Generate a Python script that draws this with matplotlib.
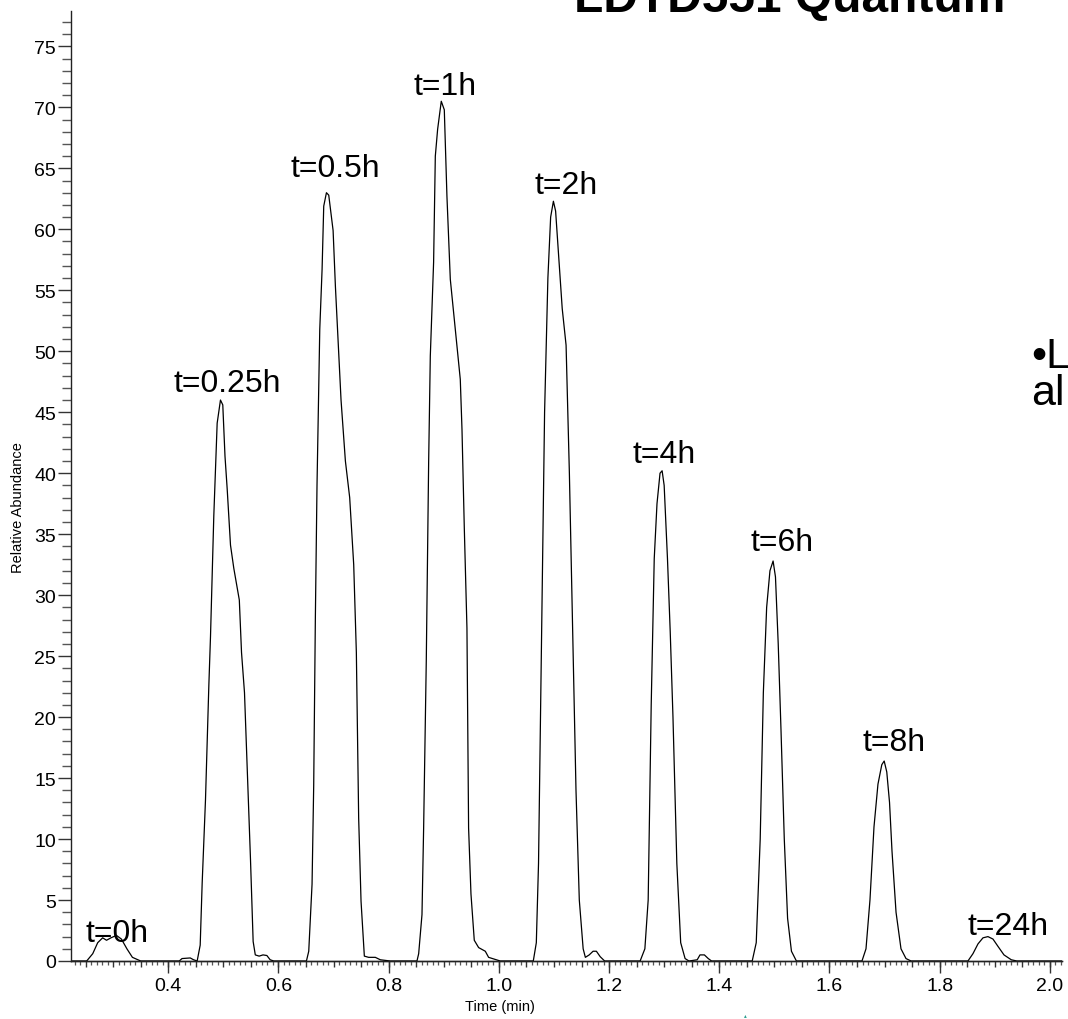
import matplotlib
matplotlib.use("Agg")
import matplotlib.pyplot as plt
from matplotlib.ticker import MultipleLocator, FixedLocator, NullFormatter

plt.rcParams['font.family'] = ['Liberation Sans', 'DejaVu Sans']

# Chromatogram trace: retention time (min) and relative abundance (%)
time_min = [
    0.223, 0.252,
    # t=0h
    0.263, 0.272, 0.281, 0.288, 0.296, 0.306, 0.315, 0.325, 0.335, 0.350,
    0.420, 0.425, 0.440, 0.446,
    # t=0.25h
    0.4525, 0.458, 0.4616, 0.4676, 0.4737, 0.4767, 0.4827, 0.4888, 0.4948,
    0.4990, 0.5030, 0.5070, 0.5130, 0.5190, 0.5290, 0.5330, 0.5384, 0.5432,
    0.5493, 0.5541, 0.5580, 0.5650, 0.5720, 0.5790, 0.5850, 0.5916,
    # t=0.5h
    0.6508, 0.655, 0.661, 0.664, 0.667, 0.670, 0.675, 0.6792, 0.6822, 0.6871,
    0.6913, 0.6992, 0.7034, 0.7094, 0.7136, 0.7215, 0.7293, 0.7366, 0.7414,
    0.7456, 0.7499, 0.7559, 0.7637, 0.7758, 0.7849, 0.803,
    # t=1h
    0.8514, 0.8545, 0.8605, 0.8635, 0.8683, 0.8726, 0.8756, 0.8816, 0.8847,
    0.8889, 0.8955, 0.9010, 0.9058, 0.9119, 0.9179, 0.9240, 0.9300, 0.9331,
    0.9373, 0.9421, 0.9451, 0.9494, 0.9554, 0.9633, 0.9754, 0.9814, 1.0025,
    # t=2h
    1.0625, 1.0680, 1.0720, 1.0770, 1.0830, 1.0890, 1.0940, 1.0990, 1.1030,
    1.1090, 1.1150, 1.1220, 1.1280, 1.1340, 1.1400, 1.1460, 1.1530, 1.1570,
    1.1640, 1.1710, 1.1770, 1.1840, 1.1920,
    # t=4h
    1.2564, 1.2650, 1.2710, 1.2765, 1.2820, 1.2870, 1.2925, 1.2963, 1.3000,
    1.3060, 1.3110, 1.3160, 1.3230, 1.3300, 1.3380, 1.3450,
    1.3600, 1.3650, 1.3730, 1.3800, 1.3860,
    # t=6h
    1.4598, 1.4671, 1.4743, 1.4800, 1.4860, 1.4920, 1.4977, 1.5020, 1.5070,
    1.5120, 1.5180, 1.5240, 1.5310, 1.5400,
    # t=8h
    1.6590, 1.6663, 1.6735, 1.6808, 1.6880, 1.6950, 1.6993, 1.7040, 1.7090,
    1.7135, 1.7208, 1.7298, 1.7389, 1.7480,
    # t=24h
    1.8513, 1.8604, 1.8695, 1.8786, 1.8876, 1.8967, 1.9058, 1.9167, 1.9300,
    1.9400, 2.022,
]

abundance = [
    0.0, 0.0,
    0.6, 1.5, 1.9, 1.7, 1.9, 2.1, 1.8, 1.0, 0.3, 0.0,
    0.0, 0.2, 0.25, 0.1,
    0.0, 1.3, 6.4, 13.2, 22.6, 26.6, 36.5, 44.1, 46.0,
    45.6, 41.4, 38.7, 34.1, 32.2, 29.6, 25.3, 22.0, 15.9,
    8.3, 1.6, 0.5, 0.4, 0.5, 0.45, 0.1, 0.0,
    0.0, 0.8, 6.3, 14.4, 28.1, 39.0, 51.8, 56.7, 61.9, 63.0,
    62.8, 59.9, 55.3, 49.9, 46.0, 41.0, 38.0, 32.5, 25.3,
    11.7, 4.9, 0.4, 0.3, 0.3, 0.1, 0.0,
    0.0, 0.6, 3.8, 10.9, 24.6, 40.9, 49.6, 57.3, 66.0,
    68.2, 70.5, 69.8, 62.7, 55.9, 53.2, 50.5, 47.7, 43.6,
    35.5, 27.3, 10.9, 5.5, 1.7, 1.1, 0.8, 0.3, 0.0,
    0.0, 1.5, 8.0, 25.0, 45.0, 56.0, 61.0, 62.3, 61.5,
    57.5, 53.5, 50.5, 40.0, 27.0, 14.0, 5.0, 1.0, 0.3,
    0.5, 0.8, 0.8, 0.35, 0.0,
    0.0, 1.0, 5.0, 21.0, 33.0, 37.5, 40.0, 40.2, 39.0,
    33.0, 27.0, 20.0, 8.0, 1.5, 0.2, 0.0,
    0.1, 0.5, 0.5, 0.2, 0.0,
    0.0, 1.5, 10.0, 22.0, 29.0, 32.0, 32.8, 31.5, 26.0,
    19.0, 10.0, 3.5, 0.8, 0.0,
    0.0, 1.0, 5.0, 11.0, 14.5, 16.1, 16.4, 15.5, 13.0,
    9.0, 4.0, 1.0, 0.2, 0.0,
    0.0, 0.6, 1.4, 1.9, 2.0, 1.8, 1.2, 0.5, 0.1,
    0.0, 0.0,
]

# Peak labels (sampling time) and their anchor points
peak_labels = ["t=0h", "t=0.25h", "t=0.5h", "t=1h", "t=2h",
               "t=4h", "t=6h", "t=8h", "t=24h"]
label_x = [0.308, 0.5076, 0.7034, 0.9028, 1.1222, 1.300, 1.514, 1.717, 1.924]
label_y = [1.6, 46.7, 64.4, 71.1, 63.0, 40.9, 33.7, 17.3, 2.2]

x_major = [0.4, 0.6, 0.8, 1.0, 1.2, 1.4, 1.6, 1.8, 2.0]
x_major_labels = ["0.4", "0.6", "0.8", "1.0", "1.2", "1.4", "1.6", "1.8", "2.0"]
y_major = [0, 5, 10, 15, 20, 25, 30, 35, 40, 45, 50, 55, 60, 65, 70, 75]

W, H = 1068, 1020
fig = plt.figure(figsize=(W / 100, H / 100), dpi=100)
ax = fig.add_axes([70.7 / W, 58 / H, (1062 - 70.7) / W, 950 / H])

ax.plot(time_min, abundance, color="black", lw=0.9)
ax.set_xlim(0.223, 2.022)
ax.set_ylim(0, 77.9)

for s in ("top", "right"):
    ax.spines[s].set_visible(False)
for s in ("left", "bottom"):
    ax.spines[s].set_linewidth(1.0)
    ax.spines[s].set_color("#222222")

# y axis: labelled every 5, minor every 1
ax.yaxis.set_major_locator(FixedLocator(y_major))
ax.yaxis.set_minor_locator(MultipleLocator(1))
ax.tick_params(axis="y", which="major", direction="out", length=9.5, width=1.0,
               color="#333333", labelsize=14, pad=1)
ax.tick_params(axis="y", which="minor", direction="out", length=6.5, width=1.0,
               color="#555555")

# x axis: small ticks every 0.01, medium every 0.05
ax.xaxis.set_major_locator(MultipleLocator(0.05))
ax.xaxis.set_minor_locator(MultipleLocator(0.01))
ax.xaxis.set_major_formatter(NullFormatter())
ax.tick_params(axis="x", which="major", direction="out", length=4.2, width=1.0,
               color="#333333")
ax.tick_params(axis="x", which="minor", direction="out", length=2.8, width=0.9,
               color="#555555")

# long labelled ticks every 0.2
sec = ax.secondary_xaxis("bottom")
sec.set_xticks(x_major)
sec.set_xticklabels(x_major_labels)
sec.tick_params(axis="x", direction="out", length=8.6, width=1.0,
                color="#333333", labelsize=14, pad=3)
sec.spines["bottom"].set_linewidth(1.0)
sec.spines["bottom"].set_color("#222222")

for txt, lx, ly in zip(peak_labels, label_x, label_y):
    ax.text(lx, ly, txt, ha="center", va="baseline", fontsize=23, color="black")

fig.text(18 / W, 1 - 508 / H, "Relative Abundance", rotation=90,
         ha="center", va="center", fontsize=10.5)
fig.text(500 / W, 1 - 1007 / H, "Time (min)", ha="center", va="center",
         fontsize=10.5)

# slide text around the chart
fig.text(574 / W, 1 - 12 / H, "LDTD551 Quantum", ha="left", va="baseline",
         fontsize=34.5, fontweight="bold")
fig.text(1031 / W, 1 - 368 / H, "•L", ha="left", va="baseline", fontsize=31)
fig.text(1031 / W, 1 - 405 / H, "al", ha="left", va="baseline", fontsize=31)
fig.text(745 / W, 1 - 1016 / H, "▴", ha="center", va="center", fontsize=4,
         color="#2a9d8f", family=["DejaVu Sans"])

fig.savefig("out.png", dpi=100, facecolor="white")
